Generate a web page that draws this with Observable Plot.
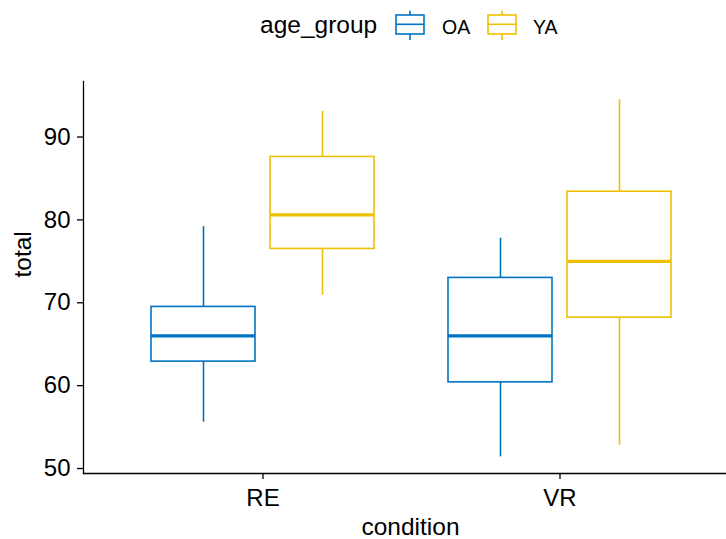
<!DOCTYPE html>
<html>
<head>
<meta charset="utf-8">
<script src="https://cdn.jsdelivr.net/npm/d3@7"></script>
<script src="https://cdn.jsdelivr.net/npm/@observablehq/plot@0.6"></script>
<style>
  html, body { margin: 0; padding: 0; background: white; }
  body { width: 726px; height: 539px; overflow: hidden; font-family: "Liberation Sans", Arial, sans-serif; }
  #legend { position: relative; width: 726px; height: 54px; }
  #legend span { position: absolute; line-height: 1; white-space: nowrap; color: black; }
  #chart svg { overflow: visible; }
</style>
</head>
<body>
<div id="legend"></div>
<div id="chart"></div>
<script>
// ---- data ----
const conditions = ["RE", "VR"];
const groups = ["OA", "YA"];
const colors = ["#0073C2", "#EFC000"];
const boxCondition = ["RE", "RE", "VR", "VR"];
const boxGroup = ["OA", "YA", "OA", "YA"];
const lower  = [55.6, 70.9, 51.4, 52.8];
const q1     = [62.9, 76.5, 60.4, 68.2];
const median = [66.0, 80.6, 66.0, 75.0];
const q3     = [69.5, 87.6, 73.0, 83.4];
const upper  = [79.2, 93.1, 77.8, 94.5];
const yTicks = [50, 60, 70, 80, 90];
const xLabel = "condition";
const yLabel = "total";
const legendTitle = "age_group";

const data = boxCondition.map((c, i) => ({
  condition: c, group: boxGroup[i],
  lower: lower[i], q1: q1[i], median: median[i], q3: q3[i], upper: upper[i]
}));

// ---- legend (HTML) ----
const legend = d3.select("#legend");
legend.append("span").text(legendTitle)
  .style("left", "260px").style("top", "13px").style("font-size", "24.5px");
const keyLeft = [395, 487];
const labelLeft = [442, 533];
groups.forEach((g, i) => {
  const svg = legend.append("svg")
    .attr("width", 30).attr("height", 34)
    .style("position", "absolute").style("left", keyLeft[i] + "px").style("top", "8px");
  const c = colors[i];
  svg.append("line").attr("x1", 15).attr("x2", 15).attr("y1", 2.7).attr("y2", 7).attr("stroke", c).attr("stroke-width", 1.6);
  svg.append("line").attr("x1", 15).attr("x2", 15).attr("y1", 26).attr("y2", 32).attr("stroke", c).attr("stroke-width", 1.6);
  svg.append("rect").attr("x", 1).attr("y", 7).attr("width", 28).attr("height", 19)
    .attr("fill", "white").attr("stroke", c).attr("stroke-width", 1.6);
  svg.append("line").attr("x1", 1).attr("x2", 29).attr("y1", 16.3).attr("y2", 16.3).attr("stroke", c).attr("stroke-width", 1.6);
  legend.append("span").text(g)
    .style("left", labelLeft[i] + "px").style("top", "17.5px").style("font-size", "19.5px");
});

// ---- chart ----
const dodge = {
  OA: {insetLeft: 37, insetRight: 156, dx: -59.5},
  YA: {insetLeft: 156, insetRight: 37, dx: 59.5}
};

const marks = [];
for (const g of groups) {
  const d = data.filter(r => r.group === g);
  const o = dodge[g];
  marks.push(Plot.ruleX(d, {x: "condition", y1: "lower", y2: "q1", stroke: "group", strokeWidth: 1.6, dx: o.dx}));
  marks.push(Plot.ruleX(d, {x: "condition", y1: "q3", y2: "upper", stroke: "group", strokeWidth: 1.6, dx: o.dx}));
  marks.push(Plot.barY(d, {x: "condition", y1: "q1", y2: "q3", fill: "white", stroke: "group", strokeWidth: 1.6,
    insetLeft: o.insetLeft, insetRight: o.insetRight}));
  marks.push(Plot.tickY(d, {x: "condition", y: "median", stroke: "group", strokeWidth: 3.3,
    insetLeft: o.insetLeft, insetRight: o.insetRight}));
}

const chart = Plot.plot({
  width: 726,
  height: 485,
  marginLeft: 83,
  marginRight: 0,
  marginTop: 27,
  marginBottom: 66,
  style: {fontFamily: "'Liberation Sans', Arial, sans-serif", fontSize: "24px", color: "black", background: "white", overflow: "visible"},
  x: {type: "band", domain: conditions, range: [113.5, 707.5], padding: 0},
  y: {domain: [49.4, 96.7]},
  color: {domain: groups, range: colors},
  marks: [
    ...marks,
    Plot.axisY({ticks: yTicks, tickSize: 6, tickPadding: 7, fontSize: 24, strokeWidth: 1.3, label: null}),
    Plot.axisX({tickSize: 6, tickPadding: 9, fontSize: 24, strokeWidth: 1.3, label: null}),
    Plot.frame({anchor: "left", strokeWidth: 1.3}),
    Plot.frame({anchor: "bottom", strokeWidth: 1.3}),
    Plot.text([xLabel], {text: d => d, frameAnchor: "bottom", dx: 5.5, dy: 53.5, fontSize: 24.5, lineAnchor: "middle"}),
    Plot.text([yLabel], {text: d => d, frameAnchor: "left", rotate: -90, dx: -60, fontSize: 24.5, lineAnchor: "middle"})
  ]
});
document.getElementById("chart").appendChild(chart);
</script>
</body>
</html>
